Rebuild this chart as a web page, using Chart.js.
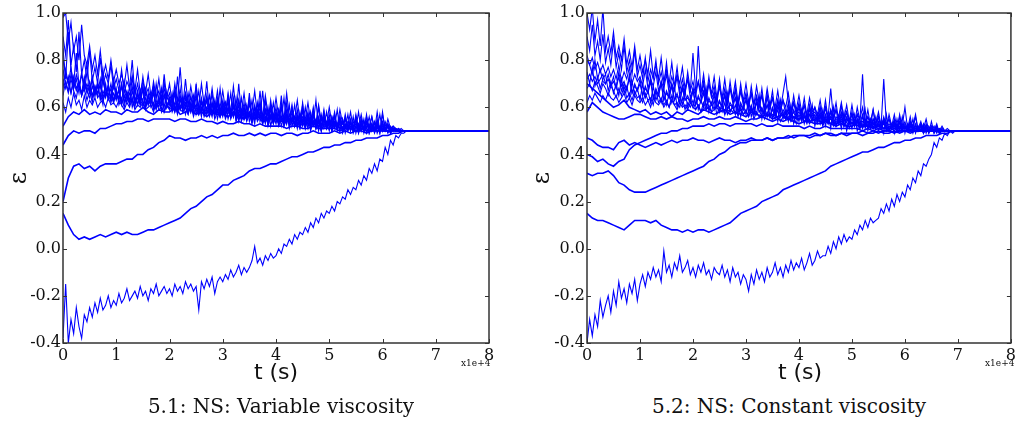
<!DOCTYPE html>
<html>
  <head>
    <meta charset="utf-8">
    <title>NS: viscosity runs</title>
    <script src="https://cdn.jsdelivr.net/npm/chart.js"></script>
    <style>
    body {
      margin: 0;
      background: #fff;
      width: 1019px;
      height: 426px;
      position: relative;
      overflow: hidden;
    }
    canvas { position: absolute; top: 0; }
    .lbl { position: absolute; white-space: nowrap; color: #111; line-height: 1; }
    .xt { font-family: "DejaVu Sans", sans-serif; font-size: 22px; transform: translateX(-50%); }
    .yt { font-family: "DejaVu Serif", serif; font-size: 24px; transform: translate(-50%, -50%) rotate(-90deg); }
    .off { font-family: "DejaVu Serif", serif; font-size: 9px; }
    .cap { font-family: "DejaVu Serif", serif; font-size: 20px; transform: translateX(-50%); }
  </style>
  </head>
  <body>
    <canvas id="chartVar" width="500" height="372" style="left:0"></canvas>
    <canvas id="chartConst" width="509" height="372" style="left:510px"></canvas>

    <div class="lbl xt" style="left:276px; top:361px">t (s)</div>
    <div class="lbl xt" style="left:800px; top:361px">t (s)</div>
    <div class="lbl yt" style="left:18px; top:178px">ε</div>
    <div class="lbl yt" style="left:541px; top:178px">ε</div>
    <div class="lbl off" style="left:461px; top:359px">x1e+4</div>
    <div class="lbl off" style="left:985px; top:359px">x1e+4</div>
    <div class="lbl cap" style="left:281px; top:396px">5.1: NS: Variable viscosity</div>
    <div class="lbl cap" style="left:789px; top:396px">5.2: NS: Constant viscosity</div>

    <script>
    // time in seconds; coarse grid for the quiet runs, fine grid for the noisy ones
    const timeVar = [
      0, 1000, 2000, 3000, 4000, 5000, 6000, 7000, 8000, 9000,
      10000, 11000, 12000, 13000, 14000, 15000, 16000, 17000, 18000, 19000,
      20000, 21000, 22000, 23000, 24000, 25000, 26000, 27000, 28000, 29000,
      30000, 31000, 32000, 33000, 34000, 35000, 36000, 37000, 38000, 39000,
      40000, 41000, 42000, 43000, 44000, 45000, 46000, 47000, 48000, 49000,
      50000, 51000, 52000, 53000, 54000, 55000, 56000, 57000, 58000, 59000,
      60000, 61000, 62000, 63000, 64000, 65000, 80000
    ];
    const timeVarFine = [
      0, 500, 1000, 1500, 2000, 2500, 3000, 3500, 4000, 4500,
      5000, 5500, 6000, 6500, 7000, 7500, 8000, 8500, 9000, 9500,
      10000, 10500, 11000, 11500, 12000, 12500, 13000, 13500, 14000, 14500,
      15000, 15500, 16000, 16500, 17000, 17500, 18000, 18500, 19000, 19500,
      20000, 20500, 21000, 21500, 22000, 22500, 23000, 23500, 24000, 24500,
      25000, 25500, 26000, 26500, 27000, 27500, 28000, 28500, 29000, 29500,
      30000, 30500, 31000, 31500, 32000, 32500, 33000, 33500, 34000, 34500,
      35000, 35500, 36000, 36500, 37000, 37500, 38000, 38500, 39000, 39500,
      40000, 40500, 41000, 41500, 42000, 42500, 43000, 43500, 44000, 44500,
      45000, 45500, 46000, 46500, 47000, 47500, 48000, 48500, 49000, 49500,
      50000, 50500, 51000, 51500, 52000, 52500, 53000, 53500, 54000, 54500,
      55000, 55500, 56000, 56500, 57000, 57500, 58000, 58500, 59000, 59500,
      60000, 60500, 61000, 61500, 62000, 62500, 63000, 63500, 64000, 64500,
      65000, 80000
    ];
    const timeConst = [
      0, 1000, 2000, 3000, 4000, 5000, 6000, 7000, 8000, 9000,
      10000, 11000, 12000, 13000, 14000, 15000, 16000, 17000, 18000, 19000,
      20000, 21000, 22000, 23000, 24000, 25000, 26000, 27000, 28000, 29000,
      30000, 31000, 32000, 33000, 34000, 35000, 36000, 37000, 38000, 39000,
      40000, 41000, 42000, 43000, 44000, 45000, 46000, 47000, 48000, 49000,
      50000, 51000, 52000, 53000, 54000, 55000, 56000, 57000, 58000, 59000,
      60000, 61000, 62000, 63000, 64000, 65000, 66000, 67000, 68000, 69000,
      70000, 80000
    ];
    const timeConstFine = [
      0, 500, 1000, 1500, 2000, 2500, 3000, 3500, 4000, 4500,
      5000, 5500, 6000, 6500, 7000, 7500, 8000, 8500, 9000, 9500,
      10000, 10500, 11000, 11500, 12000, 12500, 13000, 13500, 14000, 14500,
      15000, 15500, 16000, 16500, 17000, 17500, 18000, 18500, 19000, 19500,
      20000, 20500, 21000, 21500, 22000, 22500, 23000, 23500, 24000, 24500,
      25000, 25500, 26000, 26500, 27000, 27500, 28000, 28500, 29000, 29500,
      30000, 30500, 31000, 31500, 32000, 32500, 33000, 33500, 34000, 34500,
      35000, 35500, 36000, 36500, 37000, 37500, 38000, 38500, 39000, 39500,
      40000, 40500, 41000, 41500, 42000, 42500, 43000, 43500, 44000, 44500,
      45000, 45500, 46000, 46500, 47000, 47500, 48000, 48500, 49000, 49500,
      50000, 50500, 51000, 51500, 52000, 52500, 53000, 53500, 54000, 54500,
      55000, 55500, 56000, 56500, 57000, 57500, 58000, 58500, 59000, 59500,
      60000, 60500, 61000, 61500, 62000, 62500, 63000, 63500, 64000, 64500,
      65000, 65500, 66000, 66500, 67000, 67500, 68000, 68500, 69000, 69500,
      70000, 80000
    ];

    // 5.1 variable viscosity, quiet runs (timeVar)
    const var2 = [
      0.15,0.10,0.06,0.04,0.05,0.04,0.05,0.06,0.05,0.06,
      0.07,0.06,0.07,0.06,0.06,0.07,0.08,0.08,0.09,0.10,
      0.11,0.12,0.13,0.15,0.17,0.18,0.20,0.22,0.23,0.25,
      0.27,0.27,0.29,0.30,0.31,0.33,0.34,0.34,0.35,0.36,
      0.36,0.37,0.38,0.39,0.39,0.40,0.41,0.41,0.42,0.43,
      0.43,0.44,0.44,0.45,0.45,0.46,0.46,0.47,0.47,0.47,
      0.48,0.48,0.49,0.49,0.50,0.50,0.50
    ];
    const var3 = [
      0.20,0.30,0.35,0.36,0.34,0.35,0.33,0.35,0.36,0.36,
      0.36,0.37,0.38,0.38,0.40,0.40,0.42,0.43,0.45,0.46,
      0.48,0.47,0.47,0.46,0.47,0.47,0.48,0.47,0.48,0.47,
      0.48,0.48,0.49,0.48,0.48,0.49,0.48,0.49,0.48,0.49,
      0.49,0.48,0.49,0.49,0.48,0.49,0.49,0.50,0.49,0.49,
      0.49,0.50,0.49,0.50,0.49,0.50,0.50,0.49,0.50,0.50,
      0.50,0.50,0.50,0.50,0.50,0.50,0.50
    ];
    const var4 = [
      0.44,0.48,0.50,0.49,0.50,0.50,0.49,0.51,0.51,0.52,
      0.53,0.53,0.54,0.54,0.55,0.55,0.54,0.55,0.55,0.55,
      0.55,0.54,0.55,0.55,0.54,0.54,0.55,0.54,0.54,0.53,
      0.54,0.53,0.53,0.54,0.53,0.53,0.52,0.53,0.52,0.52,
      0.52,0.52,0.51,0.52,0.52,0.51,0.51,0.52,0.51,0.51,
      0.51,0.51,0.50,0.51,0.51,0.50,0.51,0.50,0.50,0.51,
      0.50,0.50,0.50,0.50,0.50,0.50,0.50
    ];
    const var5 = [
      0.52,0.56,0.58,0.57,0.59,0.57,0.58,0.57,0.59,0.58,
      0.58,0.57,0.59,0.58,0.58,0.60,0.58,0.57,0.59,0.58,
      0.58,0.60,0.57,0.58,0.59,0.57,0.58,0.56,0.58,0.57,
      0.57,0.56,0.58,0.56,0.55,0.57,0.55,0.56,0.54,0.56,
      0.55,0.54,0.56,0.54,0.53,0.55,0.53,0.54,0.52,0.54,
      0.53,0.52,0.54,0.52,0.51,0.53,0.51,0.52,0.51,0.52,
      0.51,0.50,0.51,0.50,0.50,0.50,0.50
    ];

    // 5.1 variable viscosity, noisy runs (timeVarFine)
    const var1 = [
      -0.38,-0.15,-0.40,-0.30,-0.36,-0.25,-0.33,-0.38,-0.28,-0.31,
      -0.25,-0.29,-0.23,-0.27,-0.21,-0.26,-0.24,-0.20,-0.25,-0.22,
      -0.24,-0.19,-0.23,-0.21,-0.17,-0.22,-0.20,-0.18,-0.21,-0.16,
      -0.20,-0.18,-0.22,-0.17,-0.19,-0.15,-0.20,-0.18,-0.16,-0.19,
      -0.17,-0.20,-0.15,-0.18,-0.16,-0.19,-0.14,-0.17,-0.15,-0.18,
      -0.16,-0.26,-0.14,-0.17,-0.13,-0.16,-0.12,-0.19,-0.14,-0.12,
      -0.14,-0.11,-0.13,-0.09,-0.12,-0.10,-0.07,-0.11,-0.08,-0.10,
      -0.08,-0.05,0.01,-0.06,-0.04,-0.07,-0.03,-0.05,-0.02,-0.04,
      -0.03,0.00,-0.02,0.02,0.01,0.04,0.02,0.06,0.04,0.07,
      0.06,0.09,0.07,0.11,0.09,0.13,0.11,0.15,0.13,0.16,
      0.15,0.18,0.16,0.20,0.19,0.22,0.21,0.25,0.23,0.26,
      0.25,0.29,0.27,0.31,0.29,0.34,0.32,0.36,0.33,0.38,
      0.37,0.43,0.40,0.46,0.44,0.48,0.47,0.49,0.49,0.50,
      0.50,0.50
    ];
    const var6 = [
      0.98,1.00,0.88,0.96,0.84,0.90,0.80,0.95,0.82,0.78,
      0.86,0.76,0.82,0.74,0.84,0.73,0.78,0.72,0.80,0.71,
      0.76,0.70,0.74,0.69,0.78,0.68,0.73,0.67,0.76,0.66,
      0.71,0.66,0.74,0.65,0.69,0.64,0.72,0.63,0.68,0.64,
      0.70,0.62,0.67,0.63,0.77,0.62,0.66,0.61,0.69,0.62,
      0.65,0.60,0.70,0.61,0.64,0.60,0.68,0.59,0.63,0.60,
      0.67,0.59,0.62,0.58,0.69,0.59,0.63,0.58,0.66,0.57,
      0.61,0.58,0.67,0.57,0.62,0.56,0.65,0.57,0.60,0.56,
      0.64,0.56,0.60,0.55,0.66,0.56,0.59,0.55,0.63,0.54,
      0.58,0.55,0.62,0.54,0.57,0.53,0.61,0.54,0.56,0.53,
      0.60,0.53,0.56,0.52,0.59,0.53,0.55,0.52,0.58,0.51,
      0.55,0.52,0.57,0.51,0.54,0.52,0.56,0.51,0.53,0.50,
      0.57,0.51,0.53,0.50,0.52,0.51,0.50,0.51,0.50,0.50,
      0.50,0.50
    ];
    const var7 = [
      0.90,0.82,0.97,0.78,0.86,0.75,0.92,0.74,0.80,0.72,
      0.84,0.71,0.77,0.70,0.81,0.69,0.74,0.70,0.78,0.68,
      0.72,0.67,0.76,0.66,0.71,0.68,0.80,0.65,0.70,0.64,
      0.73,0.65,0.68,0.63,0.71,0.64,0.67,0.62,0.74,0.63,
      0.66,0.61,0.70,0.62,0.65,0.60,0.72,0.61,0.64,0.60,
      0.69,0.59,0.63,0.60,0.71,0.58,0.62,0.59,0.67,0.58,
      0.62,0.57,0.66,0.58,0.61,0.56,0.70,0.57,0.60,0.56,
      0.64,0.55,0.60,0.56,0.67,0.55,0.59,0.54,0.63,0.55,
      0.58,0.54,0.65,0.53,0.57,0.54,0.61,0.52,0.56,0.53,
      0.62,0.52,0.57,0.53,0.60,0.51,0.55,0.52,0.59,0.51,
      0.54,0.52,0.58,0.51,0.55,0.50,0.57,0.51,0.53,0.50,
      0.57,0.51,0.54,0.50,0.56,0.51,0.53,0.50,0.58,0.50,
      0.53,0.50,0.55,0.51,0.52,0.50,0.51,0.50,0.50,0.50,
      0.50,0.50
    ];
    const var8 = [
      0.80,0.74,0.70,0.77,0.68,0.74,0.70,0.66,0.73,0.67,
      0.71,0.65,0.69,0.66,0.72,0.64,0.68,0.65,0.70,0.63,
      0.67,0.64,0.70,0.62,0.66,0.63,0.69,0.61,0.65,0.63,
      0.68,0.61,0.64,0.62,0.67,0.60,0.63,0.61,0.66,0.60,
      0.64,0.59,0.62,0.60,0.68,0.59,0.62,0.58,0.65,0.59,
      0.61,0.58,0.64,0.57,0.60,0.58,0.66,0.57,0.61,0.56,
      0.63,0.57,0.60,0.56,0.64,0.55,0.59,0.56,0.62,0.55,
      0.58,0.54,0.61,0.55,0.57,0.54,0.63,0.53,0.57,0.54,
      0.60,0.53,0.56,0.54,0.62,0.52,0.56,0.53,0.59,0.52,
      0.55,0.52,0.58,0.51,0.54,0.52,0.60,0.51,0.55,0.52,
      0.57,0.50,0.54,0.51,0.56,0.50,0.53,0.51,0.55,0.49,
      0.52,0.50,0.55,0.49,0.53,0.51,0.56,0.50,0.52,0.49,
      0.54,0.50,0.52,0.49,0.51,0.50,0.51,0.50,0.50,0.50,
      0.50,0.50
    ];
    const var9 = [
      0.72,0.68,0.73,0.66,0.71,0.67,0.70,0.65,0.72,0.66,
      0.69,0.64,0.67,0.65,0.70,0.63,0.66,0.64,0.68,0.62,
      0.66,0.63,0.69,0.62,0.65,0.61,0.67,0.62,0.64,0.61,
      0.68,0.60,0.63,0.61,0.66,0.60,0.62,0.59,0.65,0.60,
      0.62,0.59,0.66,0.58,0.61,0.59,0.64,0.58,0.60,0.57,
      0.65,0.57,0.60,0.58,0.63,0.56,0.59,0.57,0.62,0.56,
      0.59,0.56,0.63,0.55,0.58,0.56,0.61,0.54,0.58,0.55,
      0.62,0.54,0.57,0.55,0.60,0.53,0.56,0.54,0.59,0.53,
      0.56,0.53,0.60,0.52,0.55,0.53,0.58,0.52,0.54,0.51,
      0.59,0.52,0.55,0.51,0.57,0.52,0.54,0.50,0.56,0.51,
      0.53,0.51,0.56,0.50,0.54,0.51,0.55,0.50,0.52,0.51,
      0.55,0.50,0.52,0.51,0.54,0.49,0.53,0.50,0.55,0.50,
      0.52,0.50,0.53,0.50,0.51,0.50,0.50,0.50,0.50,0.50,
      0.50,0.50
    ];
    const var10 = [
      0.65,0.71,0.67,0.74,0.68,0.72,0.66,0.75,0.67,0.70,
      0.66,0.72,0.65,0.69,0.64,0.73,0.65,0.68,0.63,0.70,
      0.64,0.67,0.62,0.71,0.63,0.66,0.62,0.69,0.61,0.65,
      0.63,0.68,0.61,0.64,0.60,0.70,0.62,0.65,0.60,0.67,
      0.61,0.64,0.60,0.73,0.59,0.63,0.60,0.66,0.58,0.62,
      0.60,0.67,0.58,0.62,0.59,0.65,0.57,0.61,0.58,0.68,
      0.57,0.62,0.58,0.66,0.56,0.60,0.57,0.64,0.55,0.60,
      0.56,0.63,0.55,0.59,0.56,0.67,0.54,0.58,0.55,0.62,
      0.54,0.59,0.55,0.64,0.53,0.57,0.54,0.61,0.52,0.57,
      0.53,0.60,0.52,0.56,0.53,0.63,0.51,0.56,0.52,0.58,
      0.51,0.56,0.52,0.59,0.50,0.55,0.51,0.57,0.50,0.54,
      0.51,0.58,0.50,0.54,0.51,0.56,0.50,0.53,0.51,0.57,
      0.50,0.54,0.51,0.52,0.50,0.51,0.50,0.50,0.50,0.50,
      0.50,0.50
    ];
    const var11 = [
      0.62,0.58,0.64,0.60,0.66,0.61,0.63,0.59,0.65,0.60,
      0.63,0.61,0.64,0.60,0.62,0.63,0.60,0.64,0.61,0.62,
      0.60,0.63,0.61,0.59,0.62,0.60,0.64,0.59,0.61,0.60,
      0.62,0.59,0.60,0.61,0.58,0.62,0.59,0.60,0.58,0.61,
      0.59,0.60,0.58,0.62,0.59,0.58,0.60,0.57,0.61,0.58,
      0.59,0.57,0.60,0.58,0.57,0.61,0.58,0.57,0.59,0.56,
      0.58,0.57,0.59,0.56,0.58,0.57,0.56,0.59,0.57,0.56,
      0.58,0.55,0.57,0.56,0.58,0.55,0.56,0.57,0.55,0.56,
      0.57,0.55,0.56,0.54,0.57,0.55,0.54,0.56,0.55,0.54,
      0.56,0.54,0.55,0.53,0.56,0.54,0.53,0.55,0.54,0.53,
      0.55,0.53,0.54,0.52,0.55,0.53,0.52,0.54,0.53,0.52,
      0.54,0.52,0.53,0.51,0.54,0.52,0.51,0.53,0.52,0.51,
      0.52,0.51,0.52,0.50,0.51,0.50,0.51,0.50,0.50,0.50,
      0.50,0.50
    ];
    const var12 = [
      0.85,0.72,0.92,0.76,0.70,0.83,0.69,0.74,0.68,0.79,
      0.67,0.73,0.66,0.70,0.68,0.76,0.65,0.69,0.64,0.72,
      0.66,0.63,0.70,0.64,0.67,0.62,0.73,0.63,0.66,0.62,
      0.69,0.61,0.65,0.62,0.68,0.60,0.64,0.61,0.71,0.60,
      0.64,0.60,0.67,0.59,0.63,0.60,0.66,0.58,0.62,0.59,
      0.70,0.58,0.62,0.57,0.65,0.58,0.61,0.56,0.64,0.57,
      0.60,0.56,0.65,0.57,0.60,0.55,0.63,0.56,0.59,0.55,
      0.66,0.54,0.58,0.55,0.62,0.54,0.58,0.53,0.61,0.54,
      0.57,0.53,0.62,0.52,0.56,0.53,0.60,0.52,0.55,0.53,
      0.61,0.51,0.56,0.52,0.59,0.51,0.55,0.50,0.58,0.51,
      0.54,0.50,0.57,0.51,0.53,0.50,0.56,0.51,0.52,0.50,
      0.56,0.49,0.53,0.50,0.57,0.49,0.52,0.50,0.54,0.49,
      0.58,0.50,0.52,0.49,0.51,0.50,0.50,0.50,0.50,0.50,
      0.50,0.50
    ];
    const var13 = [
      0.68,0.76,0.70,0.66,0.73,0.68,0.71,0.65,0.70,0.67,
      0.64,0.69,0.65,0.71,0.63,0.67,0.64,0.70,0.62,0.66,
      0.63,0.68,0.61,0.65,0.62,0.69,0.60,0.64,0.61,0.67,
      0.60,0.64,0.61,0.66,0.59,0.63,0.60,0.68,0.58,0.62,
      0.59,0.66,0.58,0.62,0.59,0.64,0.57,0.61,0.58,0.65,
      0.57,0.61,0.56,0.64,0.57,0.60,0.56,0.63,0.55,0.60,
      0.56,0.62,0.55,0.59,0.56,0.64,0.54,0.58,0.55,0.61,
      0.54,0.58,0.53,0.62,0.54,0.57,0.53,0.60,0.52,0.57,
      0.53,0.59,0.52,0.56,0.53,0.61,0.52,0.56,0.51,0.58,
      0.52,0.55,0.51,0.58,0.52,0.55,0.50,0.57,0.51,0.54,
      0.50,0.56,0.51,0.53,0.50,0.55,0.49,0.53,0.50,0.56,
      0.49,0.53,0.50,0.55,0.49,0.52,0.50,0.54,0.49,0.52,
      0.50,0.53,0.49,0.51,0.50,0.51,0.50,0.50,0.50,0.50,
      0.50,0.50
    ];
    const var14 = [
      0.76,0.70,0.66,0.72,0.67,0.64,0.70,0.65,0.68,0.63,
      0.67,0.62,0.69,0.64,0.66,0.61,0.70,0.63,0.65,0.62,
      0.68,0.61,0.64,0.60,0.66,0.62,0.63,0.60,0.67,0.61,
      0.63,0.59,0.66,0.60,0.62,0.59,0.65,0.58,0.61,0.60,
      0.63,0.58,0.61,0.57,0.64,0.58,0.60,0.57,0.62,0.56,
      0.60,0.57,0.63,0.56,0.59,0.57,0.62,0.55,0.58,0.56,
      0.61,0.55,0.58,0.56,0.62,0.54,0.57,0.55,0.60,0.54,
      0.57,0.53,0.60,0.54,0.56,0.53,0.59,0.52,0.56,0.53,
      0.58,0.52,0.55,0.53,0.59,0.51,0.55,0.52,0.57,0.51,
      0.54,0.51,0.57,0.50,0.54,0.51,0.56,0.50,0.53,0.51,
      0.55,0.50,0.53,0.51,0.56,0.49,0.52,0.50,0.54,0.50,
      0.52,0.49,0.55,0.50,0.51,0.50,0.53,0.49,0.52,0.50,
      0.51,0.50,0.52,0.49,0.51,0.50,0.50,0.50,0.50,0.50,
      0.50,0.50
    ];

    // 5.2 constant viscosity, quiet runs (timeConst)
    const const2 = [
      0.15,0.13,0.12,0.12,0.11,0.10,0.09,0.08,0.10,0.12,
      0.12,0.12,0.11,0.12,0.10,0.09,0.08,0.08,0.07,0.08,
      0.07,0.08,0.08,0.07,0.08,0.09,0.10,0.11,0.13,0.15,
      0.16,0.17,0.18,0.20,0.21,0.22,0.23,0.25,0.26,0.27,
      0.28,0.29,0.30,0.31,0.32,0.33,0.35,0.36,0.37,0.38,
      0.39,0.40,0.41,0.41,0.42,0.43,0.43,0.44,0.45,0.45,
      0.46,0.46,0.47,0.47,0.48,0.48,0.48,0.49,0.49,0.50,
      0.50,0.50
    ];
    const const3 = [
      0.32,0.31,0.32,0.32,0.33,0.31,0.28,0.27,0.25,0.24,
      0.24,0.24,0.25,0.26,0.27,0.28,0.29,0.30,0.31,0.32,
      0.33,0.34,0.35,0.37,0.38,0.40,0.41,0.43,0.44,0.45,
      0.45,0.46,0.46,0.46,0.47,0.46,0.47,0.47,0.47,0.48,
      0.48,0.48,0.48,0.49,0.48,0.49,0.49,0.48,0.49,0.49,
      0.49,0.49,0.50,0.49,0.50,0.49,0.50,0.50,0.49,0.50,
      0.50,0.50,0.50,0.50,0.50,0.50,0.50,0.50,0.50,0.50,
      0.50,0.50
    ];
    const const4 = [
      0.40,0.39,0.37,0.38,0.36,0.35,0.37,0.38,0.42,0.44,
      0.45,0.46,0.47,0.48,0.49,0.49,0.50,0.50,0.51,0.51,
      0.52,0.52,0.52,0.53,0.52,0.53,0.53,0.52,0.53,0.53,
      0.53,0.53,0.52,0.53,0.52,0.52,0.53,0.52,0.52,0.52,
      0.52,0.51,0.52,0.51,0.51,0.52,0.51,0.51,0.51,0.51,
      0.51,0.51,0.50,0.51,0.50,0.51,0.50,0.50,0.51,0.50,
      0.50,0.50,0.50,0.50,0.50,0.50,0.50,0.50,0.50,0.50,
      0.50,0.50
    ];
    const const5 = [
      0.47,0.46,0.44,0.43,0.43,0.42,0.45,0.46,0.44,0.45,
      0.44,0.43,0.44,0.45,0.44,0.45,0.46,0.45,0.46,0.46,
      0.47,0.46,0.46,0.45,0.46,0.47,0.46,0.46,0.45,0.46,
      0.46,0.47,0.46,0.46,0.47,0.46,0.47,0.47,0.48,0.47,
      0.48,0.48,0.47,0.48,0.48,0.49,0.48,0.48,0.49,0.48,
      0.49,0.49,0.48,0.49,0.49,0.50,0.49,0.49,0.50,0.49,
      0.50,0.49,0.50,0.50,0.50,0.50,0.50,0.50,0.50,0.50,
      0.50,0.50
    ];
    const const6 = [
      0.58,0.62,0.60,0.58,0.57,0.56,0.55,0.55,0.56,0.57,
      0.57,0.56,0.55,0.55,0.56,0.55,0.56,0.55,0.55,0.54,
      0.55,0.55,0.56,0.55,0.55,0.56,0.55,0.55,0.56,0.55,
      0.54,0.55,0.55,0.56,0.55,0.54,0.55,0.54,0.55,0.54,
      0.53,0.54,0.54,0.53,0.53,0.54,0.53,0.52,0.53,0.52,
      0.52,0.53,0.52,0.52,0.51,0.52,0.51,0.51,0.52,0.51,
      0.51,0.50,0.51,0.50,0.50,0.51,0.50,0.50,0.50,0.50,
      0.50,0.50
    ];
    const const7 = [
      0.70,0.68,0.66,0.64,0.62,0.60,0.61,0.63,0.60,0.59,
      0.58,0.59,0.57,0.58,0.57,0.58,0.56,0.58,0.57,0.59,
      0.58,0.57,0.59,0.58,0.57,0.58,0.59,0.57,0.58,0.57,
      0.56,0.58,0.57,0.56,0.57,0.55,0.56,0.57,0.55,0.56,
      0.55,0.56,0.54,0.55,0.56,0.54,0.55,0.53,0.54,0.55,
      0.53,0.54,0.52,0.54,0.53,0.52,0.53,0.51,0.52,0.53,
      0.51,0.52,0.51,0.50,0.51,0.50,0.51,0.50,0.50,0.50,
      0.50,0.50
    ];

    // 5.2 constant viscosity, noisy runs (timeConstFine)
    const const1 = [
      -0.40,-0.30,-0.37,-0.28,-0.33,-0.22,-0.29,-0.24,-0.20,-0.27,
      -0.18,-0.24,-0.14,-0.21,-0.17,-0.23,-0.15,-0.19,-0.13,-0.22,
      -0.15,-0.11,-0.16,-0.10,-0.13,-0.08,-0.12,-0.09,-0.14,-0.01,
      -0.10,-0.07,-0.12,-0.06,-0.09,-0.03,-0.10,-0.08,-0.05,-0.11,
      -0.08,-0.12,-0.07,-0.10,-0.06,-0.11,-0.09,-0.13,-0.08,-0.10,
      -0.11,-0.07,-0.12,-0.09,-0.14,-0.08,-0.12,-0.10,-0.15,-0.11,
      -0.13,-0.18,-0.11,-0.15,-0.09,-0.13,-0.10,-0.14,-0.08,-0.12,
      -0.10,-0.06,-0.11,-0.08,-0.12,-0.07,-0.10,-0.05,-0.09,-0.06,
      -0.08,-0.04,-0.09,-0.06,-0.02,-0.07,-0.05,-0.01,-0.04,-0.03,
      -0.03,0.01,-0.02,0.03,0.00,0.05,0.02,0.06,0.03,0.05,
      0.04,0.08,0.06,0.10,0.08,0.12,0.09,0.13,0.11,0.12,
      0.13,0.17,0.15,0.19,0.16,0.21,0.18,0.23,0.20,0.24,
      0.22,0.27,0.25,0.30,0.28,0.33,0.31,0.36,0.35,0.38,
      0.40,0.45,0.43,0.47,0.46,0.49,0.48,0.50,0.49,0.50,
      0.50,0.50
    ];
    const const8 = [
      1.00,0.93,1.02,0.88,0.97,0.86,1.02,0.84,0.90,0.83,
      0.92,0.81,0.86,0.80,0.89,0.78,0.84,0.77,0.86,0.76,
      0.82,0.75,0.80,0.74,0.84,0.73,0.78,0.72,0.81,0.71,
      0.76,0.70,0.79,0.69,0.74,0.70,0.77,0.68,0.72,0.67,
      0.83,0.67,0.71,0.66,0.74,0.65,0.70,0.66,0.73,0.64,
      0.69,0.64,0.72,0.63,0.68,0.64,0.71,0.62,0.67,0.63,
      0.70,0.62,0.66,0.61,0.69,0.62,0.65,0.60,0.68,0.61,
      0.64,0.60,0.67,0.59,0.63,0.60,0.66,0.58,0.62,0.59,
      0.65,0.58,0.61,0.57,0.64,0.58,0.60,0.57,0.63,0.56,
      0.60,0.56,0.68,0.55,0.59,0.56,0.62,0.55,0.58,0.54,
      0.61,0.54,0.57,0.55,0.60,0.53,0.56,0.54,0.59,0.53,
      0.56,0.52,0.72,0.53,0.55,0.52,0.57,0.51,0.54,0.52,
      0.60,0.51,0.54,0.52,0.57,0.50,0.53,0.51,0.55,0.50,
      0.52,0.50,0.53,0.49,0.51,0.50,0.51,0.50,0.50,0.50,
      0.50,0.50
    ];
    const const9 = [
      0.90,0.84,0.95,0.82,0.88,0.80,0.91,0.79,0.85,0.78,
      0.88,0.77,0.83,0.76,0.86,0.75,0.80,0.74,0.84,0.73,
      0.78,0.72,0.81,0.71,0.76,0.72,0.80,0.70,0.75,0.69,
      0.79,0.68,0.73,0.69,0.77,0.67,0.72,0.66,0.75,0.67,
      0.71,0.65,0.86,0.66,0.70,0.64,0.73,0.65,0.69,0.63,
      0.72,0.63,0.68,0.62,0.71,0.63,0.67,0.61,0.70,0.62,
      0.66,0.60,0.69,0.61,0.65,0.60,0.68,0.59,0.64,0.60,
      0.67,0.58,0.63,0.59,0.66,0.73,0.62,0.57,0.65,0.58,
      0.61,0.57,0.64,0.56,0.60,0.57,0.58,0.56,0.60,0.55,
      0.63,0.55,0.59,0.56,0.62,0.54,0.58,0.55,0.61,0.54,
      0.57,0.53,0.60,0.54,0.74,0.53,0.59,0.52,0.55,0.53,
      0.58,0.52,0.55,0.51,0.57,0.52,0.54,0.51,0.56,0.50,
      0.53,0.51,0.56,0.50,0.52,0.51,0.54,0.50,0.52,0.49,
      0.54,0.49,0.51,0.50,0.52,0.50,0.50,0.50,0.50,0.50,
      0.50,0.50
    ];
    const const10 = [
      0.80,0.78,0.81,0.76,0.79,0.75,0.78,0.74,0.77,0.73,
      0.76,0.72,0.78,0.71,0.75,0.72,0.77,0.70,0.74,0.71,
      0.73,0.69,0.76,0.68,0.72,0.69,0.75,0.67,0.71,0.68,
      0.74,0.66,0.70,0.67,0.73,0.65,0.69,0.66,0.72,0.64,
      0.68,0.65,0.71,0.64,0.67,0.63,0.70,0.64,0.66,0.62,
      0.69,0.62,0.65,0.61,0.68,0.62,0.64,0.60,0.67,0.61,
      0.63,0.60,0.66,0.59,0.62,0.60,0.65,0.58,0.61,0.59,
      0.64,0.57,0.60,0.58,0.63,0.57,0.59,0.56,0.62,0.57,
      0.58,0.56,0.61,0.55,0.57,0.56,0.60,0.55,0.57,0.54,
      0.60,0.54,0.56,0.55,0.59,0.53,0.56,0.54,0.58,0.53,
      0.55,0.53,0.57,0.52,0.54,0.53,0.56,0.52,0.54,0.51,
      0.56,0.51,0.53,0.52,0.55,0.51,0.53,0.50,0.54,0.51,
      0.52,0.50,0.54,0.51,0.52,0.50,0.53,0.49,0.51,0.50,
      0.52,0.49,0.51,0.50,0.51,0.50,0.50,0.50,0.50,0.50,
      0.50,0.50
    ];
    const const11 = [
      0.72,0.74,0.71,0.73,0.70,0.72,0.74,0.70,0.72,0.69,
      0.71,0.68,0.73,0.67,0.70,0.68,0.72,0.66,0.69,0.67,
      0.70,0.65,0.68,0.66,0.71,0.64,0.67,0.65,0.70,0.63,
      0.66,0.64,0.69,0.63,0.65,0.62,0.68,0.63,0.64,0.62,
      0.67,0.61,0.64,0.62,0.66,0.60,0.63,0.61,0.65,0.60,
      0.62,0.60,0.65,0.59,0.61,0.60,0.64,0.58,0.61,0.59,
      0.63,0.58,0.60,0.57,0.62,0.58,0.59,0.57,0.61,0.56,
      0.59,0.56,0.61,0.57,0.58,0.55,0.60,0.56,0.58,0.55,
      0.60,0.55,0.57,0.54,0.59,0.55,0.56,0.54,0.58,0.53,
      0.56,0.53,0.58,0.54,0.55,0.53,0.57,0.52,0.55,0.53,
      0.57,0.52,0.54,0.51,0.56,0.52,0.53,0.51,0.55,0.52,
      0.53,0.51,0.55,0.50,0.52,0.51,0.54,0.50,0.52,0.51,
      0.54,0.50,0.52,0.49,0.53,0.50,0.51,0.50,0.52,0.49,
      0.51,0.50,0.52,0.49,0.50,0.50,0.50,0.50,0.50,0.50,
      0.50,0.50
    ];
    const const12 = [
      0.68,0.70,0.67,0.71,0.69,0.66,0.70,0.68,0.65,0.69,
      0.67,0.64,0.68,0.65,0.69,0.64,0.66,0.63,0.67,0.64,
      0.65,0.62,0.66,0.63,0.64,0.61,0.67,0.62,0.64,0.61,
      0.63,0.60,0.65,0.61,0.62,0.60,0.64,0.59,0.62,0.60,
      0.63,0.59,0.61,0.58,0.62,0.59,0.60,0.58,0.63,0.57,
      0.60,0.58,0.62,0.57,0.59,0.58,0.61,0.56,0.60,0.57,
      0.59,0.56,0.60,0.55,0.58,0.56,0.59,0.55,0.58,0.56,
      0.57,0.55,0.59,0.54,0.56,0.55,0.58,0.54,0.56,0.53,
      0.57,0.54,0.56,0.53,0.57,0.54,0.55,0.53,0.56,0.52,
      0.55,0.53,0.56,0.52,0.54,0.53,0.55,0.52,0.54,0.51,
      0.54,0.52,0.55,0.51,0.53,0.52,0.54,0.51,0.53,0.51,
      0.53,0.51,0.54,0.50,0.52,0.51,0.53,0.50,0.52,0.50,
      0.52,0.50,0.53,0.50,0.51,0.50,0.52,0.49,0.51,0.50,
      0.51,0.50,0.51,0.49,0.50,0.50,0.50,0.50,0.50,0.50,
      0.50,0.50
    ];
    const const13 = [
      0.82,0.78,0.74,0.80,0.72,0.76,0.71,0.70,0.74,0.69,
      0.73,0.68,0.75,0.69,0.71,0.67,0.74,0.66,0.70,0.67,
      0.72,0.65,0.69,0.66,0.73,0.64,0.68,0.65,0.71,0.63,
      0.67,0.64,0.70,0.63,0.66,0.62,0.69,0.63,0.65,0.62,
      0.68,0.61,0.65,0.62,0.71,0.60,0.64,0.61,0.67,0.60,
      0.63,0.60,0.66,0.59,0.62,0.60,0.68,0.58,0.62,0.59,
      0.65,0.58,0.61,0.57,0.64,0.58,0.60,0.57,0.66,0.56,
      0.60,0.57,0.63,0.56,0.59,0.57,0.62,0.55,0.59,0.56,
      0.62,0.55,0.58,0.54,0.61,0.55,0.57,0.54,0.60,0.53,
      0.57,0.54,0.59,0.53,0.56,0.54,0.61,0.52,0.56,0.53,
      0.58,0.52,0.55,0.53,0.57,0.51,0.54,0.52,0.59,0.51,
      0.54,0.51,0.56,0.52,0.53,0.51,0.55,0.50,0.57,0.51,
      0.52,0.50,0.54,0.51,0.56,0.50,0.52,0.49,0.53,0.50,
      0.51,0.50,0.52,0.49,0.50,0.50,0.50,0.50,0.50,0.50,
      0.50,0.50
    ];
    const const14 = [
      0.62,0.65,0.63,0.66,0.64,0.62,0.65,0.63,0.66,0.64,
      0.63,0.65,0.62,0.64,0.66,0.62,0.64,0.61,0.65,0.63,
      0.62,0.64,0.61,0.63,0.60,0.64,0.62,0.61,0.63,0.60,
      0.62,0.60,0.63,0.61,0.59,0.62,0.60,0.61,0.59,0.62,
      0.60,0.59,0.61,0.58,0.60,0.59,0.61,0.58,0.59,0.60,
      0.58,0.60,0.57,0.59,0.58,0.60,0.57,0.58,0.59,0.57,
      0.58,0.56,0.59,0.57,0.58,0.56,0.57,0.58,0.56,0.57,
      0.56,0.57,0.55,0.56,0.57,0.55,0.56,0.54,0.56,0.55,
      0.55,0.56,0.54,0.55,0.53,0.55,0.54,0.56,0.54,0.53,
      0.54,0.55,0.53,0.54,0.52,0.54,0.53,0.55,0.52,0.53,
      0.53,0.54,0.52,0.53,0.51,0.53,0.52,0.54,0.51,0.52,
      0.52,0.53,0.51,0.52,0.50,0.52,0.51,0.53,0.50,0.51,
      0.51,0.52,0.50,0.51,0.50,0.51,0.50,0.52,0.50,0.50,
      0.51,0.50,0.50,0.51,0.50,0.50,0.50,0.50,0.50,0.50,
      0.50,0.50
    ];
    const const15 = [
      0.75,0.70,0.77,0.69,0.73,0.68,0.72,0.74,0.67,0.71,
      0.66,0.70,0.65,0.72,0.66,0.69,0.64,0.71,0.65,0.68,
      0.63,0.70,0.64,0.67,0.62,0.69,0.63,0.66,0.62,0.68,
      0.61,0.66,0.62,0.69,0.60,0.65,0.61,0.67,0.60,0.64,
      0.60,0.66,0.59,0.63,0.60,0.68,0.58,0.62,0.59,0.65,
      0.58,0.62,0.57,0.66,0.58,0.61,0.57,0.64,0.56,0.61,
      0.57,0.63,0.56,0.60,0.57,0.65,0.55,0.60,0.56,0.62,
      0.55,0.60,0.54,0.63,0.55,0.59,0.54,0.61,0.53,0.58,
      0.54,0.59,0.53,0.57,0.54,0.61,0.52,0.57,0.53,0.59,
      0.52,0.57,0.51,0.60,0.52,0.56,0.51,0.58,0.50,0.55,
      0.51,0.57,0.50,0.54,0.51,0.59,0.50,0.55,0.51,0.56,
      0.50,0.54,0.49,0.57,0.50,0.53,0.49,0.55,0.50,0.56,
      0.49,0.53,0.50,0.55,0.49,0.52,0.50,0.53,0.49,0.52,
      0.50,0.52,0.49,0.51,0.50,0.50,0.50,0.50,0.50,0.50,
      0.50,0.50
    ];

    const varRuns = [
      [timeVarFine, var1], [timeVar, var2], [timeVar, var3], [timeVar, var4], [timeVar, var5],
      [timeVarFine, var6], [timeVarFine, var7], [timeVarFine, var8], [timeVarFine, var9],
      [timeVarFine, var10], [timeVarFine, var11], [timeVarFine, var12], [timeVarFine, var13],
      [timeVarFine, var14]
    ];
    const constRuns = [
      [timeConstFine, const1], [timeConst, const2], [timeConst, const3], [timeConst, const4],
      [timeConst, const5], [timeConst, const6], [timeConst, const7],
      [timeConstFine, const8], [timeConstFine, const9], [timeConstFine, const10],
      [timeConstFine, const11], [timeConstFine, const12], [timeConstFine, const13],
      [timeConstFine, const14], [timeConstFine, const15]
    ];

    const yTicks = [-0.4, -0.2, 0.0, 0.2, 0.4, 0.6, 0.8, 1.0];
    const xTicks = [0, 10000, 20000, 30000, 40000, 50000, 60000, 70000, 80000];

    Chart.defaults.font.family = "'DejaVu Serif', serif";
    Chart.defaults.font.size = 16;
    Chart.defaults.color = "#111";

    // matplotlib style frame with ticks pointing inward
    const frameTicks = {
      id: "frameTicks",
      afterDatasetsDraw(chart) {
        const { ctx, chartArea: a, scales: { x, y } } = chart;
        ctx.save();
        ctx.strokeStyle = "#333";
        ctx.lineWidth = 1;
        ctx.beginPath();
        xTicks.forEach((v) => {
          const px = Math.round(x.getPixelForValue(v)) + 0.5;
          ctx.moveTo(px, a.top); ctx.lineTo(px, a.top + 4);
          ctx.moveTo(px, a.bottom); ctx.lineTo(px, a.bottom - 4);
        });
        yTicks.forEach((v) => {
          const py = Math.round(y.getPixelForValue(v)) + 0.5;
          ctx.moveTo(a.left, py); ctx.lineTo(a.left + 4, py);
          ctx.moveTo(a.right, py); ctx.lineTo(a.right - 4, py);
        });
        ctx.stroke();
        ctx.lineWidth = 1.5;
        ctx.strokeRect(a.left, a.top, a.right - a.left, a.bottom - a.top);
        ctx.restore();
      }
    };

    function makeChart(id, runs, axisWidth, rightPad) {
      const datasets = runs.map(([times, vals]) => ({
        data: vals.map((v, i) => ({ x: times[i], y: v })),
        borderColor: "rgb(0,0,255)",
        // quiet runs look thicker in the source because of their fine jitter
        borderWidth: times.length < 100 ? 1.6 : 1.1,
        pointRadius: 0,
        tension: 0,
        fill: false
      }));
      return new Chart(document.getElementById(id), {
        type: "line",
        data: { datasets },
        plugins: [frameTicks],
        options: {
          responsive: false,
          animation: false,
          layout: { padding: { top: 13, right: rightPad, left: 0, bottom: 0 } },
          plugins: { legend: { display: false }, tooltip: { enabled: false } },
          scales: {
            x: {
              type: "linear",
              min: 0,
              max: 80000,
              afterBuildTicks: (s) => { s.ticks = xTicks.map((v) => ({ value: v })); },
              afterFit: (s) => { s.height = 29; },
              grid: { display: false, drawTicks: false },
              border: { display: false },
              ticks: { padding: 3, maxRotation: 0, callback: (v) => String(v / 10000) }
            },
            y: {
              min: -0.4,
              max: 1.0,
              afterBuildTicks: (s) => { s.ticks = yTicks.map((v) => ({ value: v })); },
              afterFit: (s) => { s.width = axisWidth; },
              grid: { display: false, drawTicks: false },
              border: { display: false },
              ticks: { padding: 2, callback: (v) => (Math.abs(v) < 1e-9 ? 0 : v).toFixed(1) }
            }
          }
        }
      });
    }

    makeChart("chartVar", varRuns, 63, 11);
    makeChart("chartConst", constRuns, 77, 6);
  </script>
  </body>
</html>
